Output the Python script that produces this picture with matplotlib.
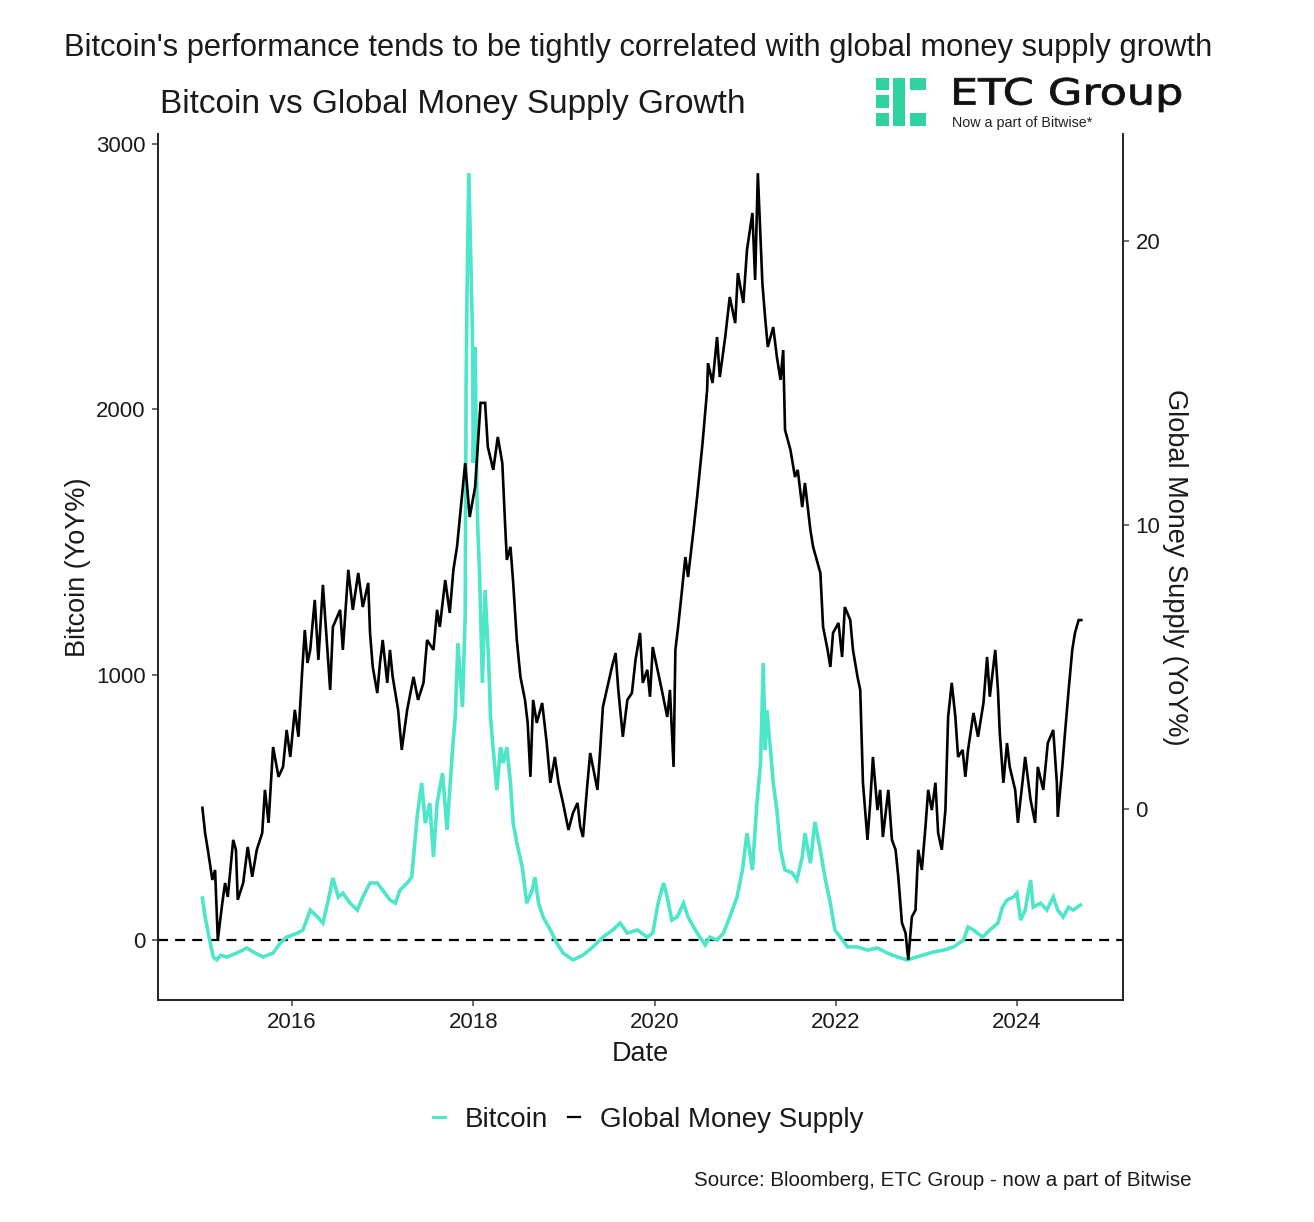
import matplotlib
matplotlib.use("Agg")
import matplotlib.pyplot as plt
from matplotlib.lines import Line2D
from matplotlib.patches import Rectangle, PathPatch
from matplotlib.textpath import TextPath
from matplotlib.font_manager import FontProperties
from matplotlib.transforms import Affine2D

plt.rcParams['font.family'] = ['Liberation Sans', 'DejaVu Sans']

# ---------------- data ----------------
btc_years = [2015.01, 2015.04, 2015.09, 2015.13, 2015.17, 2015.21, 2015.28, 2015.39, 2015.50, 2015.57,
             2015.68, 2015.79, 2015.87, 2015.94, 2016.06, 2016.12, 2016.20, 2016.28, 2016.34, 2016.40,
             2016.45, 2016.51, 2016.56, 2016.64, 2016.72, 2016.78, 2016.86, 2016.94, 2017.00, 2017.08,
             2017.14, 2017.19, 2017.27, 2017.32, 2017.38, 2017.43, 2017.47, 2017.52, 2017.56, 2017.60,
             2017.66, 2017.71, 2017.77, 2017.80, 2017.83, 2017.88, 2017.91, 2017.92, 2017.93, 2017.95,
             2017.99, 2018.00, 2018.02, 2018.04, 2018.05, 2018.07, 2018.10, 2018.13, 2018.17, 2018.19,
             2018.22, 2018.26, 2018.30, 2018.33, 2018.37, 2018.41, 2018.44, 2018.48, 2018.54, 2018.59,
             2018.65, 2018.68, 2018.72, 2018.77, 2018.85, 2018.92, 2018.99, 2019.10, 2019.21, 2019.32,
             2019.43, 2019.54, 2019.62, 2019.70, 2019.81, 2019.92, 2019.98, 2020.04, 2020.10, 2020.14,
             2020.19, 2020.25, 2020.32, 2020.37, 2020.43, 2020.50, 2020.56, 2020.61, 2020.69, 2020.76,
             2020.83, 2020.91, 2020.97, 2021.02, 2021.08, 2021.13, 2021.17, 2021.20, 2021.22, 2021.24,
             2021.28, 2021.31, 2021.35, 2021.39, 2021.44, 2021.52, 2021.57, 2021.63, 2021.66, 2021.72,
             2021.77, 2021.83, 2021.88, 2021.94, 2021.99, 2022.05, 2022.13, 2022.24, 2022.35, 2022.46,
             2022.57, 2022.68, 2022.79, 2022.85, 2022.96, 2023.08, 2023.19, 2023.30, 2023.41, 2023.46,
             2023.52, 2023.62, 2023.70, 2023.79, 2023.84, 2023.89, 2023.96, 2024.00, 2024.04, 2024.09,
             2024.15, 2024.18, 2024.26, 2024.33, 2024.40, 2024.45, 2024.51, 2024.57, 2024.62, 2024.70]
btc_yoy = [158, 87, 0, -64, -75, -57, -64, -49, -30, -45,
           -64, -49, -11, 11, 26, 38, 113, 87, 64, 151,
           234, 162, 177, 139, 113, 162, 215, 215, 188, 151,
           139, 188, 215, 237, 464, 592, 441, 516, 313, 516,
           629, 415, 716, 840, 1119, 878, 1217, 2073, 2423, 2891,
           2299, 1798, 2235, 1670, 1545, 1368, 969, 1319, 1044, 840,
           716, 565, 727, 667, 727, 592, 441, 366, 275, 139,
           188, 237, 139, 87, 38, -11, -49, -75, -57, -26,
           11, 38, 64, 26, 38, 11, 26, 139, 215, 162,
           75, 87, 139, 87, 49, 11, -19, 11, 0, 26,
           87, 162, 264, 403, 264, 516, 667, 1044, 716, 867,
           716, 592, 490, 339, 264, 253, 226, 313, 403, 290,
           445, 339, 237, 139, 38, 11, -26, -26, -38, -30,
           -49, -64, -75, -68, -57, -45, -38, -26, 0, 49,
           38, 11, 38, 64, 124, 151, 162, 177, 75, 113,
           226, 124, 139, 113, 162, 113, 87, 124, 113, 132]

m2_years = [2015.01, 2015.04, 2015.07, 2015.12, 2015.15, 2015.18, 2015.23, 2015.26, 2015.29, 2015.35,
            2015.38, 2015.40, 2015.46, 2015.51, 2015.56, 2015.61, 2015.67, 2015.70, 2015.74, 2015.79,
            2015.85, 2015.90, 2015.94, 2015.98, 2016.03, 2016.07, 2016.11, 2016.14, 2016.17, 2016.20,
            2016.25, 2016.29, 2016.34, 2016.39, 2016.42, 2016.45, 2016.53, 2016.56, 2016.62, 2016.67,
            2016.73, 2016.78, 2016.84, 2016.86, 2016.89, 2016.94, 2016.97, 2017.00, 2017.05, 2017.08,
            2017.11, 2017.17, 2017.21, 2017.27, 2017.34, 2017.39, 2017.45, 2017.49, 2017.56, 2017.60,
            2017.63, 2017.69, 2017.74, 2017.78, 2017.82, 2017.91, 2017.96, 2018.02, 2018.08, 2018.13,
            2018.16, 2018.22, 2018.27, 2018.32, 2018.35, 2018.37, 2018.41, 2018.44, 2018.48, 2018.52,
            2018.57, 2018.60, 2018.63, 2018.66, 2018.70, 2018.76, 2018.81, 2018.85, 2018.90, 2018.94,
            2018.99, 2019.05, 2019.10, 2019.15, 2019.18, 2019.21, 2019.26, 2019.29, 2019.37, 2019.40,
            2019.43, 2019.49, 2019.53, 2019.57, 2019.60, 2019.65, 2019.70, 2019.75, 2019.79, 2019.84,
            2019.87, 2019.92, 2019.95, 2019.98, 2020.04, 2020.08, 2020.14, 2020.17, 2020.21, 2020.23,
            2020.26, 2020.30, 2020.34, 2020.37, 2020.43, 2020.47, 2020.53, 2020.58, 2020.59, 2020.64,
            2020.69, 2020.72, 2020.78, 2020.83, 2020.89, 2020.92, 2020.98, 2021.02, 2021.08, 2021.11,
            2021.14, 2021.19, 2021.22, 2021.25, 2021.31, 2021.35, 2021.39, 2021.42, 2021.44, 2021.50,
            2021.55, 2021.58, 2021.63, 2021.66, 2021.72, 2021.75, 2021.83, 2021.86, 2021.91, 2021.94,
            2021.97, 2022.03, 2022.07, 2022.10, 2022.16, 2022.19, 2022.24, 2022.27, 2022.30, 2022.35,
            2022.38, 2022.41, 2022.46, 2022.49, 2022.52, 2022.58, 2022.62, 2022.66, 2022.69, 2022.73,
            2022.77, 2022.80, 2022.84, 2022.88, 2022.91, 2022.95, 2022.99, 2023.02, 2023.06, 2023.10,
            2023.13, 2023.17, 2023.21, 2023.24, 2023.28, 2023.32, 2023.35, 2023.40, 2023.43, 2023.46,
            2023.52, 2023.57, 2023.63, 2023.67, 2023.70, 2023.76, 2023.79, 2023.81, 2023.85, 2023.89,
            2023.92, 2023.98, 2024.01, 2024.06, 2024.09, 2024.15, 2024.20, 2024.23, 2024.29, 2024.34,
            2024.40, 2024.44, 2024.45, 2024.50, 2024.53, 2024.57, 2024.61, 2024.64, 2024.68, 2024.71]
m2_yoy = [0.04, -0.85, -1.44, -2.50, -2.15, -4.61, -3.31, -2.61, -3.10, -1.09,
          -1.44, -3.20, -2.61, -1.34, -2.39, -1.44, -0.85, 0.67, -0.49, 2.18,
          1.13, 1.48, 2.78, 1.83, 3.49, 2.54, 4.79, 6.30, 5.14, 5.60,
          7.36, 5.25, 7.89, 5.60, 4.19, 6.41, 7.01, 5.60, 8.42, 7.01,
          8.31, 7.11, 7.96, 6.20, 5.00, 4.08, 5.14, 5.95, 4.44, 5.60,
          4.65, 3.49, 2.08, 3.49, 4.65, 3.84, 4.44, 5.95, 5.60, 7.01,
          6.41, 8.06, 6.90, 8.42, 9.23, 12.18, 10.28, 11.34, 14.30, 14.30,
          12.75, 11.94, 13.10, 12.18, 10.07, 8.77, 9.23, 7.96, 5.95, 4.65,
          3.84, 3.03, 1.13, 3.84, 3.03, 3.73, 2.32, 0.92, 1.83, 0.92,
          0.21, -0.74, -0.14, 0.21, -0.63, -0.99, 0.92, 1.97, 0.67, 2.08,
          3.59, 4.44, 5.00, 5.49, 4.19, 2.54, 3.84, 4.08, 5.25, 6.20,
          4.44, 4.90, 3.95, 5.70, 4.79, 4.19, 3.24, 4.19, 1.48, 5.60,
          6.41, 7.61, 8.87, 8.17, 9.82, 10.99, 12.89, 14.75, 15.70, 15.00,
          16.62, 15.21, 16.62, 18.03, 17.11, 18.87, 17.82, 19.68, 20.99, 18.63,
          22.39, 18.52, 17.32, 16.27, 16.97, 15.92, 15.11, 16.16, 13.35, 12.64,
          11.69, 11.94, 10.63, 11.48, 9.82, 9.23, 8.31, 6.41, 5.60, 5.00,
          6.20, 6.55, 5.35, 7.11, 6.65, 5.60, 4.65, 4.19, 0.92, -1.09,
          0.21, 1.83, -0.04, 0.67, -0.99, 0.67, -1.09, -1.44, -2.39, -4.01,
          -4.37, -5.32, -3.80, -3.56, -1.44, -2.15, -0.63, 0.67, -0.04, 0.92,
          -0.85, -1.44, -0.04, 3.24, 4.44, 3.24, 1.83, 2.08, 1.13, 2.08,
          3.38, 2.54, 3.73, 5.35, 3.95, 5.60, 4.19, 2.68, 0.92, 2.32,
          1.48, 0.67, -0.49, 0.92, 1.83, 0.32, -0.49, 1.48, 0.67, 2.32,
          2.78, 0.92, -0.28, 1.48, 2.68, 4.19, 5.60, 6.20, 6.65, 6.65]

x_ticks = [2016, 2018, 2020, 2022, 2024]
left_ticks = [0, 1000, 2000, 3000]
right_ticks = [0, 10, 20]

TEAL = '#4DE6C8'
LOGO_GREEN = '#2FD3A0'
TXT = '#1a1a1a'

# ---------------- figure ----------------
W, H = 1314, 1222
fig = plt.figure(figsize=(W / 100, H / 100), dpi=100)
fig.patch.set_facecolor('white')

ax_l, ax_r, ax_t, ax_b = 158, 1123, 134, 1000
ax = fig.add_axes([ax_l / W, 1 - ax_b / H, (ax_r - ax_l) / W, (ax_b - ax_t) / H])
ax2 = ax.twinx()

ax.plot(btc_years, btc_yoy, color=TEAL, lw=2.6, zorder=2, solid_joinstyle='miter')
ax.axhline(0, color='black', lw=1.6, dashes=(4.5, 3.2), zorder=1)
ax2.plot(m2_years, m2_yoy, color='black', lw=1.9, zorder=3, solid_joinstyle='miter')

ax.set_xlim(2014.52, 2025.17)
ax.set_ylim(-226, 3038)
ax2.set_ylim(-6.73, 23.77)

ax.set_xticks(x_ticks)
ax.set_xticklabels([str(t) for t in x_ticks])
ax.set_yticks(left_ticks)
ax.set_yticklabels([str(t) for t in left_ticks])
ax2.set_yticks(right_ticks)
ax2.set_yticklabels([str(t) for t in right_ticks])

for a in (ax, ax2):
    a.spines['top'].set_visible(False)
    for s in ('left', 'right', 'bottom'):
        a.spines[s].set_linewidth(1.4)
        a.spines[s].set_color('#222222')
    a.tick_params(direction='out', length=4, width=1.1, color='#444444',
                  labelsize=16, labelcolor=TXT, pad=5)
ax.spines['right'].set_visible(False)
ax2.spines['left'].set_visible(False)
ax2.spines['bottom'].set_visible(False)

ax.set_xlabel('Date', fontsize=19.5, color=TXT)
ax.xaxis.set_label_coords(0.4995, -0.062)
ax.xaxis.label.set_va('center')
ax.set_ylabel('Bitcoin (YoY%)', fontsize=19.5, color=TXT)
ax.yaxis.set_label_coords(-0.083, 0.5)
ax.yaxis.label.set_va('center')
ax2.set_ylabel('Global Money Supply (YoY%)', fontsize=19.5, color=TXT, rotation=270)
ax2.yaxis.set_label_coords(1.054, 0.5)
ax2.yaxis.label.set_va('center')

# titles
fig.text(638 / W, 1 - 48 / H,
         "Bitcoin's performance tends to be tightly correlated with global money supply growth",
         ha='center', va='center', fontsize=22.2, color=TXT)
fig.text(160 / W, 1 - 105 / H, 'Bitcoin vs Global Money Supply Growth',
         ha='left', va='center', fontsize=24, color=TXT)

# logo
def frect(x0, y0, x1, y1):
    fig.add_artist(Rectangle((x0 / W, 1 - y1 / H), (x1 - x0) / W, (y1 - y0) / H,
                             transform=fig.transFigure, color=LOGO_GREEN, lw=0))

frect(876, 78, 889, 90)
frect(876, 95, 889, 108)
frect(876, 113, 889, 126)
frect(893, 78, 905, 126)
frect(910, 78, 926, 90)
frect(910, 113, 926, 126)

# "ETC Group" wordmark: wide geometric lettering, drawn as a stretched text path
tp = TextPath((0, 0), 'ETC Group', size=1, prop=FontProperties(family='DejaVu Sans'))
sx, sy = 44.5, 36.0   # pixels per font unit (horizontal / vertical)
tr = Affine2D().scale(sx / W, sy / H).translate(950 / W, 1 - 104.5 / H) + fig.transFigure
fig.add_artist(PathPatch(tp, transform=tr, color='#111111', lw=0.6))

fig.text(952 / W, 1 - 123 / H, 'Now a part of Bitwise*', ha='left', va='center',
         fontsize=10.3, color='#222222')

# legend
handles = [Line2D([], [], color=TEAL, lw=2.2), Line2D([], [], color='black', lw=1.6)]
fig.legend(handles, ['Bitcoin', 'Global Money Supply'], loc='center',
           bbox_to_anchor=(648 / W, 1 - 1120 / H), ncol=2, frameon=False,
           fontsize=20, handlelength=0.45, handletextpad=0.7, columnspacing=0.7,
           labelcolor=TXT)

fig.text(1192 / W, 1 - 1180 / H, 'Source: Bloomberg, ETC Group - now a part of Bitwise',
         ha='right', va='center', fontsize=14.8, color=TXT)

fig.savefig('out.png', dpi=100, facecolor='white')
